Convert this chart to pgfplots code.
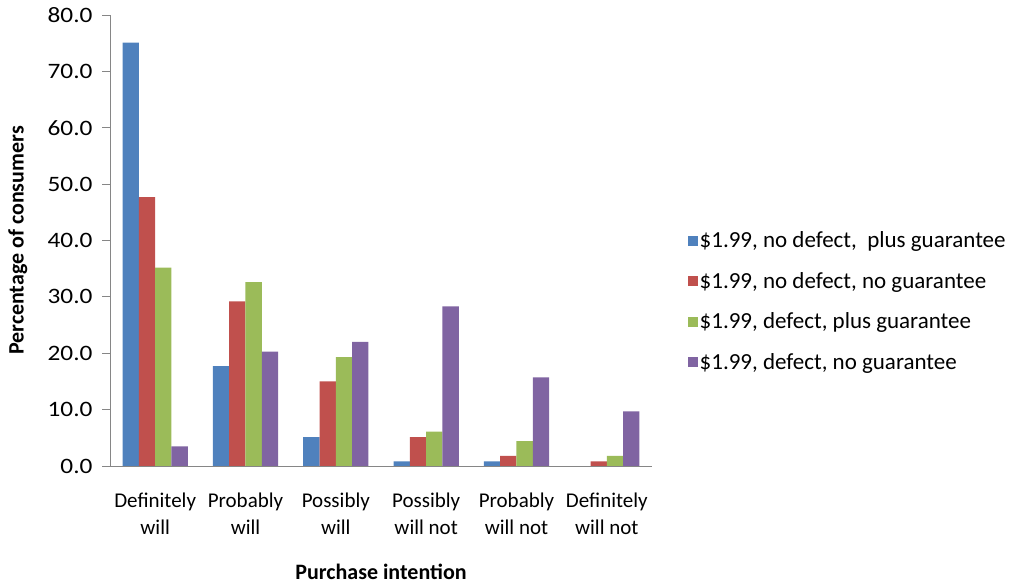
\documentclass[border=0pt]{standalone}
\usepackage{fontspec}
\setmainfont{Carlito}
\usepackage{pgfplots}
\pgfplotsset{compat=1.18}

\definecolor{serA}{HTML}{4F81BD}
\definecolor{serB}{HTML}{C0504D}
\definecolor{serC}{HTML}{9BBB59}
\definecolor{serD}{HTML}{8064A2}
\definecolor{axgray}{HTML}{868686}

\begin{document}
\begin{tikzpicture}
\useasboundingbox (0,0) rectangle (1010bp,587bp);
\begin{axis}[
  at={(110bp,121bp)}, anchor=south west,
  scale only axis, width=542bp, height=451bp,
  font=\fontsize{21bp}{27bp}\selectfont,
  ybar=0pt, bar width=16.3bp,
  xmin=-0.5, xmax=5.5, ymin=0, ymax=80,
  xtick=data,
  xticklabels={{Definitely\\will},{Probably\\will},{Possibly\\will},{Possibly\\will not},{Probably\\will not},{Definitely\\will not}},
  xticklabel style={align=center, anchor=center, yshift=-40bp},
  major x tick style={draw=none},
  ytick={0,10,...,80},
  yticklabel style={font=\fontsize{22bp}{26bp}\selectfont, anchor=east, xshift=-6bp,
    /pgf/number format/fixed, /pgf/number format/fixed zerofill,
    /pgf/number format/precision=1, /pgf/number format/assume math mode=true},
  yticklabel={\scalebox{1.15}[1]{\pgfmathprintnumber{\tick}}},
  axis x line*=bottom, axis y line*=left,
  axis line style={-, draw=axgray, line width=0.9bp},
  ytick style={draw=axgray, line width=0.9bp},
  tick align=outside, major tick length=8bp,
  ylabel={\bfseries Percentage of consumers},
  ylabel style={font=\fontsize{22bp}{26bp}\selectfont, at={(axis description cs:-0.17,0.5)}, anchor=center},
  xlabel={\bfseries Purchase intention},
  xlabel style={font=\fontsize{22bp}{26bp}\selectfont, at={(axis description cs:0.5,-0.235)}, anchor=center},
  legend style={at={(axis description cs:1.06,0.365)}, anchor=west, draw=none,
    font=\fontsize{23bp}{26bp}\selectfont, row sep=19bp,
    nodes={inner sep=2bp}},
  legend cell align=left,
  legend image code/.code={\fill[#1] (0bp,-5bp) rectangle (10bp,5bp);},
  every axis plot/.append style={draw=none},
]
\addplot[fill=serA] coordinates {(0,75.1) (1,17.7) (2,5.1) (3,0.8) (4,0.8) (5,0)};
\addplot[fill=serB] coordinates {(0,47.7) (1,29.2) (2,15.0) (3,5.1) (4,1.8) (5,0.8)};
\addplot[fill=serC] coordinates {(0,35.2) (1,32.6) (2,19.3) (3,6.1) (4,4.4) (5,1.8)};
\addplot[fill=serD] coordinates {(0,3.5) (1,20.3) (2,22.0) (3,28.3) (4,15.7) (5,9.7)};
\legend{\$1.99{,} no defect{,}\ \ plus guarantee,
        \$1.99{,} no defect{,} no guarantee,
        \$1.99{,} defect{,} plus guarantee,
        \$1.99{,} defect{,} no guarantee}
\end{axis}
\end{tikzpicture}
\end{document}
